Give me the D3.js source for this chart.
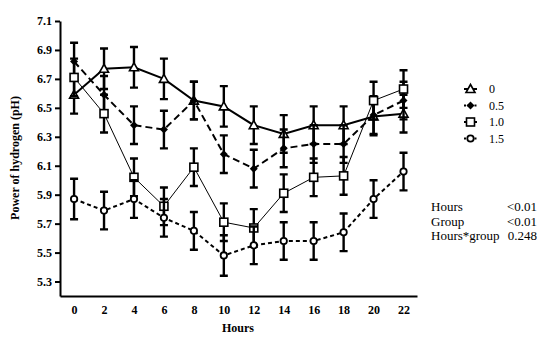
<!DOCTYPE html>
<html>
<head>
<meta charset="utf-8">
<script src="https://cdn.jsdelivr.net/npm/d3@7"></script>
<style>
  body { margin: 0; background: #fff; }
  svg { display: block; }
  svg text { font-family: "Liberation Serif", "Times New Roman", Times, serif; }
</style>
</head>
<body>
<script>
// data
var hours = [0, 2, 4, 6, 8, 10, 12, 14, 16, 18, 20, 22];
var groups = ["0", "0.5", "1.0", "1.5"];
var ph0  = [6.59, 6.77, 6.78, 6.70, 6.55, 6.51, 6.38, 6.32, 6.38, 6.38, 6.44, 6.46];
var ph05 = [6.82, 6.59, 6.38, 6.35, 6.55, 6.18, 6.08, 6.22, 6.25, 6.25, 6.45, 6.55];
var ph10 = [6.71, 6.46, 6.02, 5.82, 6.09, 5.71, 5.67, 5.91, 6.02, 6.03, 6.55, 6.63];
var ph15 = [5.87, 5.79, 5.87, 5.74, 5.65, 5.48, 5.55, 5.58, 5.58, 5.64, 5.87, 6.06];
var err0  = [0.13, 0.14, 0.14, 0.14, 0.13, 0.14, 0.13, 0.13, 0.13, 0.13, 0.13, 0.13];
var err05 = [0.13, 0.13, 0.13, 0.13, 0.13, 0.13, 0.13, 0.13, 0.13, 0.13, 0.13, 0.13];
var err10 = [0.13, 0.13, 0.13, 0.13, 0.13, 0.13, 0.13, 0.13, 0.13, 0.13, 0.13, 0.13];
var err15 = [0.14, 0.13, 0.13, 0.13, 0.13, 0.14, 0.13, 0.13, 0.13, 0.13, 0.13, 0.13];
var yTicks = [5.3, 5.5, 5.7, 5.9, 6.1, 6.3, 6.5, 6.7, 6.9, 7.1];
var statNames = ["Hours", "Group", "Hours*group"];
var statValues = ["<0.01", "<0.01", "0.248"];

var series = [
  {name: groups[0], values: ph0,  errs: err0,  shape: "triangle", dash: null,  width: 2},
  {name: groups[1], values: ph05, errs: err05, shape: "diamond",  dash: "7,4", width: 2},
  {name: groups[2], values: ph10, errs: err10, shape: "square",   dash: null,  width: 1},
  {name: groups[3], values: ph15, errs: err15, shape: "circle",   dash: "4,3", width: 2}
];

var width = 550, height = 359;
var margin = {top: 21, left: 60, right: 133, bottom: 63};

var svg = d3.select("body")
  .append("svg")
    .attr("width", width)
    .attr("height", height);

var x = d3.scaleLinear()
  .domain([-0.94, 22.9])
  .range([margin.left, width - margin.right]);

var y = d3.scaleLinear()
  .domain([5.2, 7.1])
  .range([height - margin.bottom, margin.top]);

// y-axis
var yAxis = svg.append("g")
  .attr("transform", "translate(" + margin.left + ",0)")
  .call(d3.axisLeft(y).tickValues(yTicks).tickSize(5).tickSizeOuter(0).tickFormat(d3.format(".1f")));
yAxis.select(".domain").attr("stroke-width", 2);
yAxis.selectAll(".tick line").attr("stroke-width", 2);
yAxis.selectAll("text")
  .attr("font-family", null)
  .style("font-weight", "bold")
  .style("font-size", "12px")
  .attr("x", -8);

// x-axis
var xAxis = svg.append("g")
  .attr("transform", "translate(0," + (height - margin.bottom) + ")")
  .call(d3.axisBottom(x).tickValues(hours).tickSize(0).tickSizeOuter(0));
xAxis.select(".domain").attr("stroke-width", 2);
xAxis.selectAll("text")
  .attr("font-family", null)
  .style("font-weight", "bold")
  .style("font-size", "12px")
  .attr("y", 9);

// axis titles
svg.append("text")
  .attr("x", 238)
  .attr("y", 332)
  .attr("text-anchor", "middle")
  .style("font-weight", "bold")
  .style("font-size", "12px")
  .text("Hours");

svg.append("text")
  .attr("transform", "translate(19,158) rotate(-90)")
  .attr("text-anchor", "middle")
  .style("font-weight", "bold")
  .style("font-size", "12px")
  .text("Power of hydrogen (pH)");

function drawMarker(g, shape, cx, cy) {
  if (shape == "triangle") {
    g.append("path")
      .attr("d", "M" + cx + "," + (cy - 4.5) + "L" + (cx + 4.5) + "," + (cy + 3.5) + "L" + (cx - 4.5) + "," + (cy + 3.5) + "Z")
      .attr("fill", "#fff").attr("stroke", "#000").attr("stroke-width", 1.6);
  } else if (shape == "diamond") {
    g.append("path")
      .attr("d", "M" + cx + "," + (cy - 4) + "L" + (cx + 4) + "," + cy + "L" + cx + "," + (cy + 4) + "L" + (cx - 4) + "," + cy + "Z")
      .attr("fill", "#000");
  } else if (shape == "square") {
    g.append("rect")
      .attr("x", cx - 4).attr("y", cy - 4).attr("width", 8).attr("height", 8)
      .attr("fill", "#fff").attr("stroke", "#000").attr("stroke-width", 1.6);
  } else {
    g.append("circle")
      .attr("cx", cx).attr("cy", cy).attr("r", 3.2)
      .attr("fill", "#fff").attr("stroke", "#000").attr("stroke-width", 1.8);
  }
}

// error bars, lines and markers
series.forEach(function(s) {
  var g = svg.append("g");
  var pts = hours.map(function(h, i) { return {h: h, v: s.values[i], e: s.errs[i]}; });

  g.selectAll(".err")
    .data(pts)
    .enter()
    .append("path")
      .attr("d", function(d) {
        var cx = x(d.h), t = y(d.v + d.e), b = y(d.v - d.e);
        return "M" + cx + "," + t + "V" + b +
               "M" + (cx - 4) + "," + t + "H" + (cx + 4) +
               "M" + (cx - 4) + "," + b + "H" + (cx + 4);
      })
      .attr("stroke", "#000")
      .attr("stroke-width", 2.4)
      .attr("fill", "none");

  var line = d3.line()
    .x(function(d) { return x(d.h); })
    .y(function(d) { return y(d.v); });

  g.append("path")
    .datum(pts)
    .attr("d", line)
    .attr("fill", "none")
    .attr("stroke", "#000")
    .attr("stroke-width", s.width)
    .attr("stroke-dasharray", s.dash);

  pts.forEach(function(d) { drawMarker(g, s.shape, x(d.h), y(d.v)); });
});

// legend
var legend = svg.append("g");
series.forEach(function(s, i) {
  var ly = 89 + i * 16.5;
  legend.append("line")
    .attr("x1", 464).attr("x2", 477).attr("y1", ly).attr("y2", ly)
    .attr("stroke", "#000").attr("stroke-width", 2)
    .attr("stroke-dasharray", s.dash ? "2,1.5" : null);
  drawMarker(legend, s.shape, 470.5, ly);
  legend.append("text")
    .attr("x", 489).attr("y", ly + 4)
    .style("font-size", "12px")
    .text(s.name);
});

// statistics
statNames.forEach(function(n, i) {
  var sy = 211 + i * 14.5;
  svg.append("text")
    .attr("x", 431).attr("y", sy)
    .style("font-size", "13px")
    .text(n);
  svg.append("text")
    .attr("x", 537).attr("y", sy)
    .attr("text-anchor", "end")
    .style("font-size", "13px")
    .text(statValues[i]);
});
</script>
</body>
</html>
